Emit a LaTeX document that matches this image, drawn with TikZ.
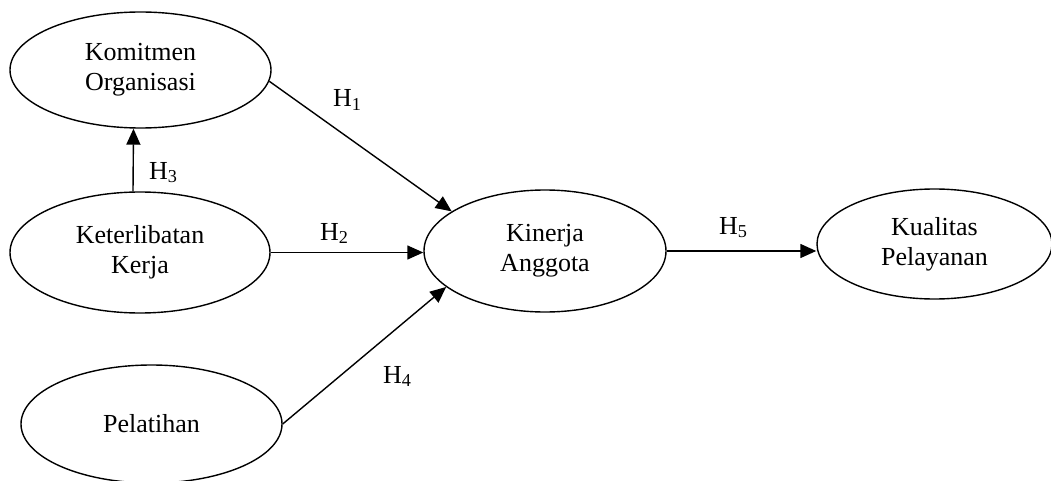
\documentclass[tikz,border=0pt]{standalone}
\usepackage{fontspec}
\setmainfont{Liberation Serif}
\usetikzlibrary{arrows.meta,shapes.geometric}
\begin{document}
\begin{tikzpicture}[x=1pt,y=1pt,
  var/.style={draw, ellipse, line width=1.4pt, inner sep=0pt, align=center,
    font=\fontsize{26}{30}\selectfont},
  arr/.style={line width=1.4pt, -{Triangle[length=16pt,width=14pt]}},
  hlab/.style={anchor=base west, inner sep=0pt, font=\fontsize{26}{30}\selectfont}]
\useasboundingbox (0,0) rectangle (1051,480);
\node[var, minimum width=261pt, minimum height=116pt] (k) at (140.5,410) {Komitmen\\Organisasi};
\node[var, minimum width=260pt, minimum height=121pt] (kt) at (140,227.5) {Keterlibatan\\Kerja};
\node[var, minimum width=261pt, minimum height=118pt] (p) at (151.5,56) {Pelatihan};
\node[var, minimum width=242pt, minimum height=122pt] (ka) at (545,229) {Kinerja\\Anggota};
\node[var, minimum width=235pt, minimum height=110pt] (ku) at (934.5,236) {Kualitas\\Pelayanan};
\draw[arr] (k.-5.7) -- (ka.157.7);
\draw[arr] (kt.east) -- (kt.east -| ka.west);
\draw[arr] ([xshift=-7pt]kt.north) -- ([xshift=-7pt]k.south);
\draw[arr] (p.0) -- (ka.200);
\draw[arr] (ka.east) -- (ka.east -| ku.west);
\node[hlab] (h1) at (333,373) {H\textsubscript{1}};
\node[hlab] (h2) at (320,240) {H\textsubscript{2}};
\node[hlab] (h3) at (149,301) {H\textsubscript{3}};
\node[hlab] (h4) at (383,97) {H\textsubscript{4}};
\node[hlab] (h5) at (719,246) {H\textsubscript{5}};
\end{tikzpicture}
\end{document}
